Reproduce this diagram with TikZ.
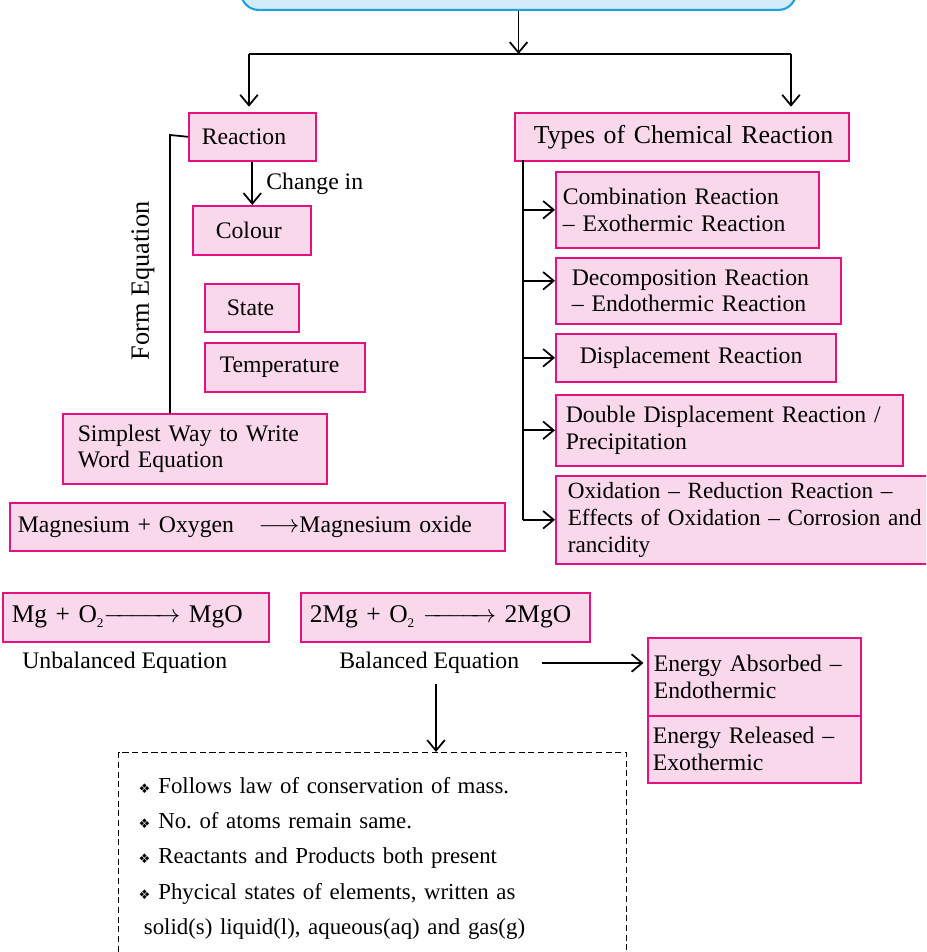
\documentclass[tikz,border=0pt]{standalone}
\usepackage{fontspec}
\setmainfont{Liberation Serif}
\newfontfamily\symfont{DejaVu Sans}
\usepackage{amsmath}
\usetikzlibrary{arrows.meta}
\definecolor{pinkfill}{HTML}{F8D8EA}
\definecolor{pinkline}{HTML}{E4127F}
\definecolor{bluefill}{HTML}{D4EBF8}
\definecolor{blueline}{HTML}{1AA3DC}
\newdimen\pxu \pxu=0.02cm
\newcommand{\bul}{{\symfont\fontsize{7.5}{7.5}\selectfont\char"2756}\hspace{4.5pt}}
\newcommand{\sub}[1]{\raisebox{-2.5pt}{\fontsize{7.5}{7.5}\selectfont #1}}
\frenchspacing

\begin{document}
\begin{tikzpicture}[x=0.02cm,y=-0.02cm,>={Straight Barb[length=6pt,width=10pt]},
  link/.style={draw=black,line width=1pt},
  pbox/.style={draw=pinkline,fill=pinkfill,line width=0.9pt,anchor=north west,align=left,inner sep=0pt,font=\fontsize{13.5}{15.3}\selectfont},
  wh/.style n args={3}{text width=#1\pxu,minimum height=#2\pxu,execute at begin node={\leftskip=#3\pxu}},
  lbl/.style={inner sep=0pt,font=\fontsize{13.5}{15.3}\selectfont}]
  \useasboundingbox (0,0) rectangle (926,952);
  \clip (0,0) rectangle (926,952);

  \node[draw=blueline,fill=bluefill,line width=1.2pt,rounded corners=10pt,anchor=south west,minimum width=555*0.02cm,minimum height=60*0.02cm] (top) at (240,11) {};

  \node[pbox,wh={127}{48}{13}] (react) at (188,112) {Reaction};
  \node[pbox,wh={118}{49}{23}] (colour) at (192,205) {Colour};
  \node[pbox,wh={94}{48}{22}] (state) at (204,283) {State};
  \node[pbox,wh={160}{49}{15}] (temp) at (204,342) {Temperature};
  \node[pbox,wh={264}{70}{15}] (simp) at (62,413) {Simplest Way to Write\\Word Equation};
  \node[pbox,wh={495}{48}{8}] (mgword) at (9,502) {Magnesium + Oxygen\hspace{14pt}$\longrightarrow$Magnesium oxide};

  \node[pbox,wh={334}{48}{19},font=\fontsize{14.7}{16}\selectfont] (types) at (514,112) {Types of Chemical Reaction};
  \node[pbox,wh={263}{76}{7}] (comb) at (555,171) {Combination Reaction\\-- Exothermic Reaction};
  \node[pbox,wh={285}{66}{16}] (decomp) at (555,257) {Decomposition Reaction\\-- Endothermic Reaction};
  \node[pbox,wh={280}{48}{24}] (displ) at (555,333) {Displacement Reaction};
  \node[pbox,wh={347}{71}{10}] (double) at (555,394) {Double Displacement Reaction /\\Precipitation};
  \node[pbox,wh={375}{88}{12},font=\fontsize{13.2}{15.3}\selectfont] (oxid) at (555,475) {Oxidation -- Reduction Reaction --\\Effects of Oxidation -- Corrosion and\\rancidity};

  \node[pbox,wh={266}{49}{9},font=\fontsize{14.5}{16}\selectfont] (mgeq) at (2,592) {Mg + O\sub{2}$\xrightarrow{\hspace{36pt}}$ MgO};
  \node[pbox,wh={289}{49}{9},font=\fontsize{14.5}{16}\selectfont] (mgbal) at (300,592) {2Mg + O\sub{2} $\xrightarrow{\hspace{34pt}}$ 2MgO};
  \node[lbl,anchor=west] (unbal) at (22,663) {Unbalanced Equation};
  \node[lbl,anchor=west] (bal) at (339,663) {Balanced Equation};
  \node[pbox,wh={213}{78}{6}] (absorb) at (647,637) {Energy Absorbed --\\Endothermic};
  \node[pbox,wh={213}{67}{5}] (release) at (647,715) {Energy Released --\\Exothermic};

  \node[draw=black,dashed,dash pattern=on 3.5pt off 2pt,line width=0.7pt,anchor=north west,align=left,text width=468*0.02cm,inner xsep=0.4cm,inner ysep=0.5cm,font=\fontsize{13}{20}\selectfont] (notes) at (118,752)
    {\bul Follows law of conservation of mass.\\\bul No. of atoms remain same.\\\bul Reactants and Products both present\\\bul Phycical states of elements, written as\\\hspace*{3pt}solid(s) liquid(l), aqueous(aq) and gas(g)};

  \node[lbl] (change) at (266,184) [anchor=west] {Change in};
  \node[lbl,rotate=90,font=\fontsize{15}{16}\selectfont] (formeq) at (143,281) {Form Equation};

  \coordinate (lft) at (249,54);
  \coordinate (rgt) at (791,54);
  \coordinate (fq) at (170,135);
  \coordinate (trunk) at (523,160);
  \coordinate (bdown) at (436,684);

  \draw[link,->] (top.south) -- (top.south |- lft);
  \draw[link] (lft) -- (rgt);
  \draw[link,->,shorten >=3pt] (lft) -- (lft |- react.north);
  \draw[link,->,shorten >=3pt] (rgt) -- (rgt |- types.north);
  \draw[link,->] (react.south) -- (react.south |- colour.north);
  \draw[link] (react.west) -- (fq) -- (fq |- simp.north);
  \draw[link] (trunk) -- (trunk |- oxid.west);
  \draw[link,->] (trunk |- comb.west) -- (comb.west);
  \draw[link,->] ([yshift=0.2cm]trunk |- decomp.west) -- ([yshift=0.2cm]decomp.west);
  \draw[link,->] (trunk |- displ.west) -- (displ.west);
  \draw[link,->] (trunk |- double.west) -- (double.west);
  \draw[link,->] (trunk |- oxid.west) -- (oxid.west);
  \draw[link,->,shorten >=2pt] ([xshift=0.44cm]bal.east) -- (bal.east -| absorb.west);
  \draw[link,->] (bdown) -- (bdown |- notes.north);
\end{tikzpicture}
\end{document}
